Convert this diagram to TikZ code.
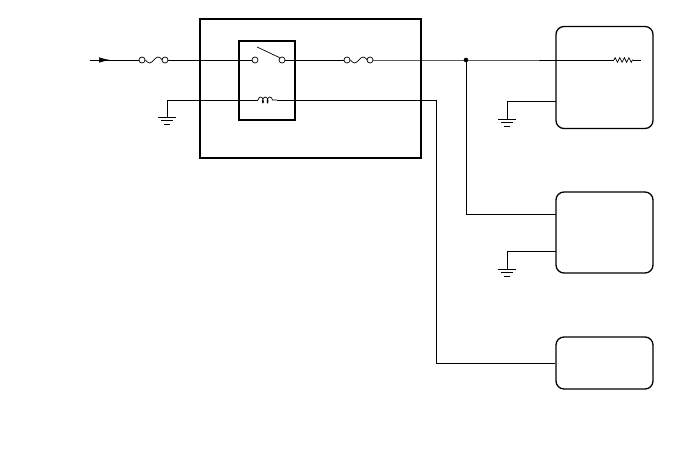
\documentclass[tikz,border=0pt]{standalone}
\usetikzlibrary{arrows.meta}
\usetikzlibrary{positioning}
\usetikzlibrary{decorations.pathmorphing}
\begin{document}
\begin{tikzpicture}[x=1pt,y=-1pt,line width=0.7pt]
\def\r{6pt}
\def\l{11pt}
\def\w{5.5pt}
\def\gnd#1{\draw ([xshift=-9pt]#1) -- ([xshift=9pt]#1);
\draw ([xshift=-6pt,yshift=-3.5pt]#1) -- ([xshift=6pt,yshift=-3.5pt]#1);
\draw ([xshift=-3pt,yshift=-7pt]#1) -- ([xshift=3pt,yshift=-7pt]#1);}
\useasboundingbox (0,0) rectangle (688,463);

% boxes
\node [draw,line width=1.3pt,minimum width=221pt,minimum height=139pt,inner sep=0pt,name=ecu]      at (310.5,88.5) {};
\node [draw,line width=1.1pt,minimum width=56pt,minimum height=79pt,inner sep=0pt,name=relay]      at (267,80.5) {};
\node [draw,line width=1.3pt,rounded corners=8pt,minimum width=97pt,minimum height=102pt,inner sep=0pt,name=b1]      at (604.5,77.5) {};
\node [draw,line width=1.3pt,rounded corners=8pt,minimum width=97pt,minimum height=81pt,inner sep=0pt,name=b2]      at (604.5,232.5) {};
\node [draw,line width=1.3pt,rounded corners=8pt,minimum width=97pt,minimum height=52pt,inner sep=0pt,name=b3]      at (604.5,363) {};

% fuses and switch contacts
\node [draw,circle,inner sep=0pt,minimum size=\r,name=f1a]      at (142,60) {};
\node [draw,circle,inner sep=0pt,minimum size=\r,name=f1b]      at (165,60) {};
\node [draw,circle,inner sep=0pt,minimum size=\r,name=s1]      at (255,60) {};
\node [draw,circle,inner sep=0pt,minimum size=\r,name=s2]      at (282,60) {};
\node [draw,circle,inner sep=0pt,minimum size=\r,name=f2a]      at (347,60) {};
\node [draw,circle,inner sep=0pt,minimum size=\r,name=f2b]      at (370,60) {};

\coordinate (in) at (90,60);
\coordinate (tip) at (110,60);
\coordinate (lever) at (257,47);
\coordinate (j) at (466,60);
\coordinate (rz1) at (614,60);
\coordinate (rz2) at (633,60);
\coordinate (rend) at (641,60);
\coordinate (c1) at (258,100);
\coordinate (c2) at (277,100);
\coordinate (g1top) at (167,100);
\coordinate (g1) at (167,117);
\coordinate (k) at (436,100);
\coordinate (b1g) at (556,101);
\coordinate (g2) at (507,119);
\coordinate (b2in) at (556,214);
\coordinate (b2g) at (556,251);
\coordinate (g3) at (507,269);

\draw (in) -- (f1a);
\draw [-{Latex[length=\l, width=\w]}](in) to (tip);
\draw (f1a.east) sin ++(4.25,3) cos ++(4.25,-3) sin ++(4.25,-3) cos ++(4.25,3);
\draw (f1b) -- (s1);
\draw (lever) -- (s2.north west);
\draw (s2) -- (f2a);
\draw (f2a.east) sin ++(4.25,3) cos ++(4.25,-3) sin ++(4.25,-3) cos ++(4.25,3);
\draw (f2b) -- (j) -- (rz1);
\draw [decorate,decoration={zigzag,segment length=4.6pt,amplitude=2.3pt}](rz1) -- (rz2);
\draw (rz2) -- (rend);
\fill (j) circle (2.3pt);
\draw (j) |- (b2in);

\draw (g1) -- (g1top) -- (c1);
\draw [decorate,decoration={coil,aspect=0.5,segment length=4.6pt,amplitude=3pt}](c1) -- (c2);
\draw (c2) -- (k) |- (b3.west);

\draw (b1g) -| (g2);
\draw (b2g) -| (g3);
\gnd{g1}
\gnd{g2}
\gnd{g3}
\end{tikzpicture}
\end{document}
